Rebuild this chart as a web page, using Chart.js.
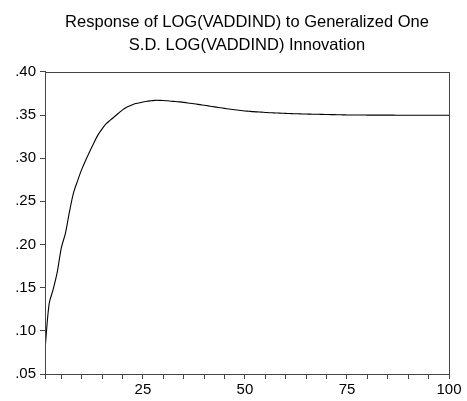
<!DOCTYPE html>
<html>
<head>
<meta charset="utf-8">
<script src="https://cdn.jsdelivr.net/npm/chart.js@4.4.0/dist/chart.umd.min.js"></script>
<style>
    html, body { margin: 0; padding: 0; background: #fff; }
    #wrap { width: 467px; height: 401px; }
</style>
</head>
<body>
<div id="wrap"><canvas id="irfChart" width="467" height="401"></canvas></div>
<script>
// periods 1..100
const periodos = Array.from({ length: 100 }, (_, i) => i + 1);

// response
const resposta = [
    0.078, 0.131, 0.148, 0.168, 0.196, 0.213, 0.238, 0.260, 0.274, 0.287,
    0.298, 0.308, 0.318, 0.327, 0.334, 0.340, 0.344, 0.348, 0.352, 0.356,
    0.359, 0.361, 0.363, 0.364, 0.365, 0.366, 0.3665, 0.367, 0.367, 0.3668,
    0.3665, 0.366, 0.3657, 0.3652, 0.3646, 0.364, 0.3634, 0.3627, 0.362, 0.3613,
    0.3606, 0.3598, 0.3591, 0.3584, 0.3577, 0.357, 0.3564, 0.3558, 0.3552, 0.3547,
    0.3543, 0.3539, 0.3536, 0.3533, 0.353, 0.3527, 0.3525, 0.3523, 0.3521, 0.3519,
    0.3517, 0.3515, 0.3514, 0.3512, 0.3511, 0.351, 0.3509, 0.3508, 0.3507, 0.3506,
    0.3505, 0.3504, 0.3503, 0.3502, 0.3501, 0.35, 0.35, 0.35, 0.35, 0.3499,
    0.3499, 0.3499, 0.3499, 0.3499, 0.3499, 0.3499, 0.3498, 0.3498, 0.3498, 0.3498,
    0.3498, 0.3498, 0.3498, 0.3498, 0.3498, 0.3498, 0.3498, 0.3498, 0.3498, 0.3498
];

const titulo = ['Response of LOG(VADDIND) to Generalized One', 'S.D. LOG(VADDIND) Innovation'];
const xRotulos = [25, 50, 75, 100];
const yMin = 0.05, yMax = 0.40, yPasso = 0.05;

const corEixo = '#444444';
const fonte = 'Liberation Sans, Arial, sans-serif';

// box around the plot area
const moldura = {
    id: 'moldura',
    afterDraw(chart) {
        const { ctx, chartArea: a } = chart;
        ctx.save();
        ctx.strokeStyle = corEixo;
        ctx.lineWidth = 1;
        ctx.strokeRect(Math.round(a.left) + 0.5, Math.round(a.top) + 0.5,
            Math.round(a.right - a.left), Math.round(a.bottom - a.top));
        ctx.restore();
    }
};

const ctx = document.getElementById('irfChart').getContext('2d');
new Chart(ctx, {
    type: 'line',
    data: {
        labels: periodos,
        datasets: [{
            data: periodos.map((p, i) => ({ x: p, y: resposta[i] })),
            borderColor: '#000000',
            borderWidth: 1.1,
            pointRadius: 0,
            tension: 0.3,
            fill: false
        }]
    },
    plugins: [moldura],
    options: {
        responsive: false,
        animation: false,
        layout: { padding: { left: 0, right: 18, top: 0, bottom: 0 } },
        plugins: {
            legend: { display: false },
            tooltip: { enabled: false },
            title: {
                display: true,
                fullSize: false,
                text: titulo,
                color: '#000000',
                font: { family: fonte, size: 16.5, weight: 'normal', lineHeight: 1.45 },
                padding: { top: 10, bottom: 14 }
            }
        },
        scales: {
            x: {
                type: 'linear',
                min: 1,
                max: 100,
                grid: { drawOnChartArea: false, drawTicks: true, tickLength: 5, color: corEixo },
                border: { display: true, color: corEixo },
                ticks: {
                    stepSize: 5,
                    autoSkip: false,
                    maxRotation: 0,
                    color: '#000000',
                    font: { family: fonte, size: 15 },
                    padding: 2,
                    callback: v => xRotulos.includes(v) ? String(v) : ''
                },
                afterFit: s => { s.height = 27; }
            },
            y: {
                min: yMin,
                max: yMax,
                grid: { drawOnChartArea: false, drawTicks: true, tickLength: 5, color: corEixo },
                border: { display: true, color: corEixo },
                ticks: {
                    stepSize: yPasso,
                    color: '#000000',
                    font: { family: fonte, size: 15 },
                    padding: 4,
                    callback: v => v.toFixed(2).replace(/^0/, '')
                },
                afterFit: s => { s.width = 45; }
            }
        }
    }
});
</script>
</body>
</html>
